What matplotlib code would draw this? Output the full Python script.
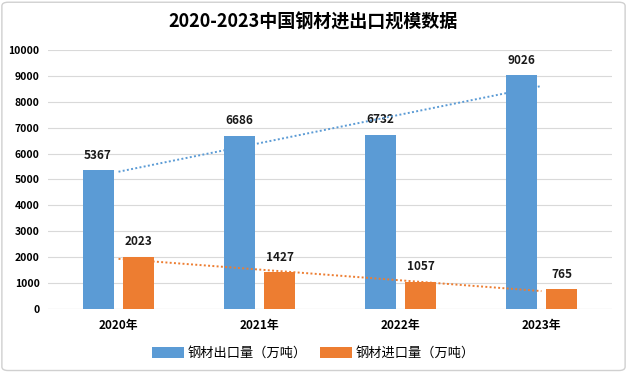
import numpy as np
import matplotlib
matplotlib.use("Agg")
from matplotlib import pyplot as plt
from matplotlib.patches import FancyBboxPatch

plt.rcParams['font.family'] = ['Noto Sans CJK SC', 'DejaVu Sans']

years = ['2020年', '2021年', '2022年', '2023年']
export_vals = [5367, 6686, 6732, 9026]
import_vals = [2023, 1427, 1057, 765]
labels = ['钢材出口量（万吨）', '钢材进口量（万吨）']

blue = '#5B9BD5'
orange = '#ED7D31'

fig = plt.figure(figsize=(6.27, 3.72), dpi=100)
ax = fig.add_axes([0.0766, 0.169, 0.8994, 0.697])

x = np.arange(len(years))
w = 0.22
b1 = ax.bar(x - 0.145, export_vals, w, color=blue, label=labels[0], zorder=2)
b2 = ax.bar(x + 0.145, import_vals, w, color=orange, label=labels[1], zorder=2)

for bars in (b1, b2):
    for r in bars:
        ax.annotate(str(int(r.get_height())), (r.get_x() + r.get_width() / 2, r.get_height()),
                    xytext=(0, 6), textcoords='offset points', ha='center', va='bottom',
                    fontsize=8.5, fontweight='bold', color='#1a1a1a')

# linear trendlines
for vals, c in ((export_vals, blue), (import_vals, orange)):
    k, b = np.polyfit(x, vals, 1)
    ax.plot(x, k * x + b, linestyle=(0, (1, 1.2)), color=c, lw=1.4, zorder=3)

ax.set_xlim(-0.5, 3.5)
ax.set_ylim(0, 10000)
ax.set_yticks(range(0, 10001, 1000))
ax.set_xticks(x)
ax.set_xticklabels(years, fontsize=8.5, fontweight='bold')
for t in ax.get_yticklabels():
    t.set_fontsize(7.5)
    t.set_fontweight('bold')
ax.tick_params(length=0, pad=6)
ax.tick_params(axis='x', pad=7)
ax.grid(axis='y', color='#d9d9d9', lw=0.8, zorder=0)
for s in ax.spines.values():
    s.set_visible(False)
ax.axhline(0, color='#d9d9d9', lw=0.8, zorder=1)

fig.suptitle('2020-2023中国钢材进出口规模数据', y=0.965, fontsize=13, fontweight='bold')
fig.legend(loc='lower center', bbox_to_anchor=(0.5, 0.0), ncol=2, frameon=False,
           fontsize=9.5, handlelength=2.4, handleheight=0.8, columnspacing=1.0, handletextpad=0.3)

fig.patches.append(FancyBboxPatch((0.003, 0.004), 0.994, 0.99, boxstyle='round,pad=0,rounding_size=0.01',
                                  transform=fig.transFigure, fill=False, ec='#d0d0d0', lw=1))

fig.savefig('out.png', dpi=100)
